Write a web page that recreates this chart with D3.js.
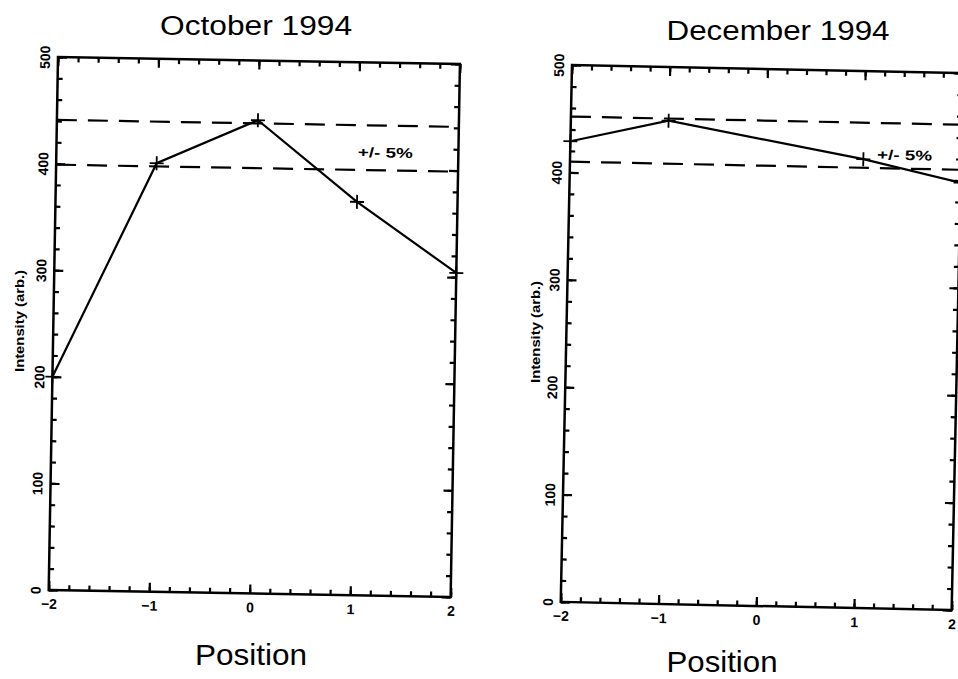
<!DOCTYPE html>
<html>
<head>
<meta charset="utf-8">
<script src="https://cdn.jsdelivr.net/npm/d3@7"></script>
<style>
	body { margin: 0; background: #fff; }
	svg { display: block; font-family: "Liberation Sans", Arial, sans-serif; }
</style>
</head>
<body>
<svg id="chart" width="958" height="679"></svg>
<script>
// values
const xTicks = [-2, -1, 0, 1, 2];
const yTicks = [0, 100, 200, 300, 400, 500];
const octPos = [-2, -1, 0, 1, 2];
const octVal = [200, 402, 444, 369, 304];
const octBand = [399, 441];
const decPos = [-2, -1, 1, 2];
const decVal = [429, 450, 418, 398];
const decBand = [410, 452];
const bandText = "+/- 5%";

const svg = d3.select("#chart");

// the scan is slightly rotated, so every panel gets a small tilt
const panels = [
	{ title: "October 1994", pos: octPos, val: octVal, band: octBand,
	  left: 58, top: 57, w: 402, h: 533, angle: 1.0,
	  titleX: 256, titleY: 35, titleLen: 192,
	  xlabX: 251, xlabY: 665, xlabLen: 112,
	  ylabX: 24, ylabY: 321, bandLabel: [1.0, 411] },
	{ title: "December 1994", pos: decPos, val: decVal, band: decBand,
	  left: 572, top: 65, w: 391, h: 537, angle: 1.2,
	  titleX: 778, titleY: 40, titleLen: 223,
	  xlabX: 722, xlabY: 672, xlabLen: 111,
	  ylabX: 540, ylabY: 332, bandLabel: [1.14, 418] }
];

function drawPanel(p) {
	const g = svg.append("g")
		.attr("transform", `translate(${p.left},${p.top}) rotate(${p.angle})`);

	const x = d3.scaleLinear().domain([-2, 2]).range([0, p.w]);
	const y = d3.scaleLinear().domain([0, 500]).range([p.h, 0]);
	const minorX = x.ticks(20);
	const minorY = y.ticks(25);

	// inward ticks on all four sides, minor and major in their own groups
	const addAxis = (axis, scale, values, size, transform, labels) => {
		const a = g.append("g").attr("transform", transform)
			.call(axis(scale).tickValues(values).tickSize(-size).tickSizeOuter(0)
				.tickPadding(9).tickFormat(labels ? d3.format("d") : ""));
		return a;
	};
	addAxis(d3.axisBottom, x, minorX, 5, `translate(0,${p.h})`, false);
	addAxis(d3.axisBottom, x, xTicks, 9, `translate(0,${p.h})`, true);
	addAxis(d3.axisTop, x, minorX, 5, null, false);
	addAxis(d3.axisTop, x, xTicks, 9, null, false);
	addAxis(d3.axisLeft, y, minorY, 5, null, false);
	const left = addAxis(d3.axisLeft, y, yTicks, 9, null, true);
	addAxis(d3.axisRight, y, minorY, 5, `translate(${p.w},0)`, false);
	addAxis(d3.axisRight, y, yTicks, 9, `translate(${p.w},0)`, false);

	g.selectAll(".domain").remove();
	g.selectAll(".tick line").attr("stroke", "#000").attr("stroke-width", 2.2);
	g.selectAll(".tick text")
		.attr("fill", "#000")
		.style("font-size", "14px")
		.style("font-weight", "bold");

	// y labels read bottom to top
	left.selectAll(".tick text")
		.attr("x", null)
		.attr("dy", null)
		.attr("text-anchor", "middle")
		.attr("transform", "translate(-8,0) rotate(-90)");

	g.append("rect")
		.attr("width", p.w).attr("height", p.h)
		.attr("fill", "none").attr("stroke", "#000").attr("stroke-width", 2.5);

	// +/- 5% band
	g.selectAll(".band")
		.data(p.band)
		.enter().append("line")
		.attr("class", "band")
		.attr("x1", x(-2)).attr("x2", x(2))
		.attr("y1", d => y(d)).attr("y2", d => y(d))
		.attr("stroke", "#000")
		.attr("stroke-width", 2.2)
		.attr("stroke-dasharray", "20,11");

	g.append("text")
		.attr("x", x(p.bandLabel[0]))
		.attr("y", y(p.bandLabel[1]))
		.attr("textLength", 55)
		.attr("lengthAdjust", "spacingAndGlyphs")
		.style("font-size", "14px")
		.style("font-weight", "bold")
		.text(bandText);

	const pts = p.pos.map((d, i) => [d, p.val[i]]);
	const line = d3.line().x(d => x(d[0])).y(d => y(d[1]));
	g.append("path")
		.datum(pts)
		.attr("d", line)
		.attr("fill", "none")
		.attr("stroke", "#000")
		.attr("stroke-width", 2.2);

	g.selectAll(".mark")
		.data(pts)
		.enter().append("path")
		.attr("class", "mark")
		.attr("d", d => {
			const cx = x(d[0]), cy = y(d[1]);
			return `M${cx - 7},${cy}H${cx + 7}M${cx},${cy - 7}V${cy + 7}`;
		})
		.attr("stroke", "#000")
		.attr("stroke-width", 1.8);

	// titles sit straight on the page
	svg.append("text")
		.attr("x", p.titleX).attr("y", p.titleY)
		.attr("text-anchor", "middle")
		.attr("textLength", p.titleLen)
		.attr("lengthAdjust", "spacingAndGlyphs")
		.style("font-size", "27px")
		.text(p.title);

	svg.append("text")
		.attr("x", p.xlabX).attr("y", p.xlabY)
		.attr("text-anchor", "middle")
		.attr("textLength", p.xlabLen)
		.attr("lengthAdjust", "spacingAndGlyphs")
		.style("font-size", "29px")
		.text("Position");

	svg.append("text")
		.attr("transform", `translate(${p.ylabX},${p.ylabY}) rotate(-90)`)
		.attr("text-anchor", "middle")
		.attr("textLength", 102)
		.attr("lengthAdjust", "spacingAndGlyphs")
		.style("font-size", "13px")
		.style("font-weight", "bold")
		.text("Intensity (arb.)");
}

panels.forEach(drawPanel);
</script>
</body>
</html>
